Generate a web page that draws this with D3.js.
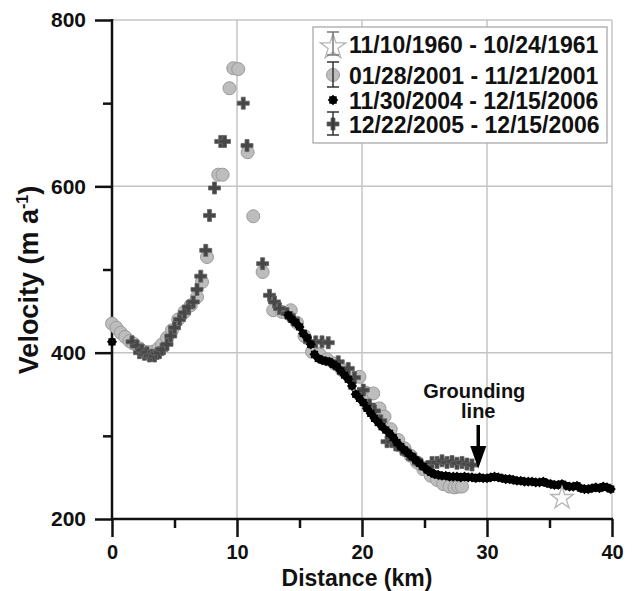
<!DOCTYPE html>
<html>
<head>
<meta charset="utf-8">
<script src="https://cdn.jsdelivr.net/npm/d3@7"></script>
<style>
  body { margin: 0; background: #fff; }
  text { font-family: "Liberation Sans", Arial, sans-serif; font-weight: bold; fill: #111; }
</style>
</head>
<body>
<div id="chart"></div>
<script>
// 1960-61 survey (single point)
const km1960 = [36.0];
const vel1960 = [225];

// 2001 survey (grey circles)
const km2001 = [0.0, 0.35, 0.7, 1.05, 1.4, 1.7, 2.2, 2.7, 3.2, 3.7, 4.0, 4.4, 4.8, 5.3, 5.8, 6.3, 6.8, 7.2, 7.6,
  8.5, 8.85, 9.4, 9.7, 10.1, 10.85, 11.3, 12.05, 12.9, 13.6, 14.3, 14.8, 15.4, 16.0, 16.6, 17.2, 17.8, 18.4, 19.0,
  19.8, 20.3, 20.9, 21.4, 21.8, 22.3, 22.9, 23.4, 23.9, 24.4, 24.9, 25.5, 26.0, 26.5, 27.0, 27.4, 27.7, 28.0];
const vel2001 = [435, 430, 424, 419, 414, 411, 405, 401, 401, 405, 410, 418, 427, 440, 449, 457, 467, 485, 515,
  614, 614, 718, 742, 741, 641, 564, 497, 451, 449, 451, 436, 420, 401, 398, 392, 387, 379, 373,
  371, 352, 351, 333, 323, 308, 295, 285, 276, 268, 260, 252, 247, 242, 239, 238, 239, 239];

// 2004-2006 (black)
const km2004 = [0.0, 14.1, 14.4, 14.7, 15.0, 15.3, 15.6, 15.9, 16.2, 16.5, 16.8, 17.1, 17.4, 17.7, 18.0, 18.3, 18.6,
  18.9, 19.2, 19.5, 19.8, 20.1, 20.4, 20.7, 21.0, 21.3, 21.6, 21.9, 22.2, 22.5, 22.8, 23.1, 23.4, 23.7, 24.0,
  24.3, 24.6, 24.9, 25.2, 25.5, 25.8, 26.1, 26.4, 26.7, 27.0, 27.3, 27.6, 27.9, 28.2, 28.5, 28.8, 29.1, 29.4,
  29.7, 30.0, 30.3, 30.6, 30.9, 31.2, 31.5, 31.8, 32.1, 32.4, 32.7, 33.0, 33.3, 33.6, 33.9, 34.2, 34.5, 34.8,
  35.1, 35.4, 35.7, 36.0, 36.3, 36.6, 36.9, 37.2, 37.5, 37.8, 38.1, 38.4, 38.7, 39.0, 39.3, 39.6, 39.9];
const vel2004 = [413, 445, 440, 436, 431, 423, 418, 410, 398, 393, 391, 390, 389, 386, 383, 378, 373,
  368, 360, 350, 345, 340, 333, 327, 321, 316, 311, 307, 303, 298, 292, 287, 283, 279, 275,
  271, 267, 263, 259, 256, 254, 253, 252, 252, 251, 251, 251, 250, 251, 250, 250, 249, 250,
  249, 249, 250, 251, 250, 249, 248, 248, 247, 246, 246, 245, 245, 245, 244, 244, 245, 243,
  242, 241, 241, 242, 240, 239, 239, 240, 237, 236, 236, 237, 238, 237, 239, 238, 236];

// 2005-2006 (dark crosses)
const km2005 = [1.6, 2.0, 2.2, 2.4, 2.6, 2.8, 3.0, 3.2, 3.4, 3.6, 3.8, 4.0, 4.4, 4.7, 5.0, 5.4, 5.8, 6.1, 6.5, 6.8,
  7.1, 7.5, 7.8, 8.2, 8.7, 9.0, 10.5, 10.8, 12.05, 12.6, 13.0, 13.4, 14.0, 14.5, 15.8, 16.3, 16.8, 17.3, 18.1,
  18.9, 19.4, 19.8, 20.1, 20.6, 21.0, 21.5, 22.0, 22.4, 22.7, 23.2, 23.7, 24.2, 24.7, 25.2, 25.6, 26.0, 26.4,
  26.8, 27.2, 27.6, 28.0, 28.4, 28.8];
const vel2005 = [413, 408, 400, 403, 398, 400, 396, 397, 396, 399, 400, 404, 410, 420, 430, 440, 448, 455, 461, 476,
  492, 523, 565, 598, 654, 654, 700, 649, 507, 469, 461, 453, 447, 440, 413, 413, 413, 412, 389,
  381, 370, 351, 355, 337, 330, 318, 293, 293, 289, 284, 278, 272, 266, 262, 268, 268, 270,
  268, 269, 267, 268, 266, 265];

const legendLabels = ["11/10/1960 - 10/24/1961", "01/28/2001 - 11/21/2001",
  "11/30/2004 - 12/15/2006", "12/22/2005 - 12/15/2006"];
const yMajor = [200, 400, 600, 800], yMinor = [300, 500, 700];
const xMajor = [0, 10, 20, 30, 40], xMinor = [5, 15, 25, 35];
const groundingKm = 29.3, groundingVel = 250;

const W = 636, H = 591;
const svg = d3.select("#chart").append("svg").attr("width", W).attr("height", H);
const x = d3.scaleLinear().domain([0, 40]).range([112, 612]);
const y = d3.scaleLinear().domain([200, 800]).range([519, 20]);

// grid
const grid = svg.append("g").attr("stroke", "#c4c4c4").attr("stroke-width", 1.5);
xMajor.slice(1).forEach(v => grid.append("line").attr("x1", x(v)).attr("x2", x(v)).attr("y1", y(800)).attr("y2", y(200)));
yMajor.slice(1).forEach(v => grid.append("line").attr("x1", x(0)).attr("x2", x(40)).attr("y1", y(v)).attr("y2", y(v)));

// axes
const styleAxis = (sel, fs) => {
  sel.select(".domain").remove();
  sel.selectAll(".tick line").attr("stroke", "#111").attr("stroke-width", 2.5);
  sel.selectAll(".tick text").style("font-size", fs).style("font-family", "Liberation Sans, Arial, sans-serif")
    .style("font-weight", "bold").attr("fill", "#111");
};
svg.append("g").attr("transform", `translate(${x(0)},0)`)
  .call(d3.axisLeft(y).tickValues(yMajor).tickSize(17).tickPadding(9).tickFormat(d3.format("d"))).call(styleAxis, "21px");
svg.append("g").attr("transform", `translate(${x(0)},0)`)
  .call(d3.axisLeft(y).tickValues(yMinor).tickSize(9).tickFormat("")).call(styleAxis, "21px");
svg.append("g").attr("transform", `translate(0,${y(200)})`)
  .call(d3.axisBottom(x).tickValues(xMajor).tickSize(18).tickPadding(8).tickFormat(d3.format("d"))).call(styleAxis, "20px");
svg.append("g").attr("transform", `translate(0,${y(200)})`)
  .call(d3.axisBottom(x).tickValues(xMinor).tickSize(9).tickFormat("")).call(styleAxis, "20px");
svg.append("line").attr("x1", x(0)).attr("x2", x(0)).attr("y1", y(800) - 1).attr("y2", y(200) + 1)
  .attr("stroke", "#111").attr("stroke-width", 2.5);
svg.append("line").attr("x1", x(0) - 1).attr("x2", x(40) + 1).attr("y1", y(200)).attr("y2", y(200))
  .attr("stroke", "#111").attr("stroke-width", 2.5);

// marker makers
const circleSym = (g, cx, cy) => g.append("circle").attr("cx", cx).attr("cy", cy).attr("r", 6.5)
  .attr("fill", "#bdbdbd").attr("stroke", "#9a9a9a").attr("stroke-width", 1);
const crossSym = (g, cx, cy) => g.append("path").attr("d", d3.symbol(d3.symbolCross, 80)())
  .attr("transform", `translate(${cx},${cy})`).attr("fill", "#474747").attr("stroke", "#666").attr("stroke-width", 0.8);
const burstSym = (g, cx, cy, s = 52) => {
  const p = d3.symbol(d3.symbolSquare, s)();
  g.append("path").attr("d", p).attr("transform", `translate(${cx},${cy})`).attr("fill", "#000");
  g.append("path").attr("d", p).attr("transform", `translate(${cx},${cy}) rotate(45)`).attr("fill", "#000");
};
const starSym = (g, cx, cy, s = 160) => g.append("path").attr("d", d3.symbol(d3.symbolStar, s)())
  .attr("transform", `translate(${cx},${cy})`).attr("fill", "#fff").attr("stroke", "#b5b5b5").attr("stroke-width", 1.3);

const marks = svg.append("g");
km2001.forEach((k, i) => circleSym(marks, x(k), y(vel2001[i])));
km2005.forEach((k, i) => crossSym(marks, x(k), y(vel2005[i])));
km2004.forEach((k, i) => burstSym(marks, x(k), y(vel2004[i])));
km1960.forEach((k, i) => starSym(marks, x(k), y(vel1960[i])));

// grounding line annotation
const ga = svg.append("g");
ga.append("text").attr("x", x(groundingKm) - 4).attr("y", 398).attr("text-anchor", "middle").style("font-size", "20px").text("Grounding");
ga.append("text").attr("x", x(groundingKm)).attr("y", 418).attr("text-anchor", "middle").style("font-size", "20px").text("line");
ga.append("line").attr("x1", x(groundingKm)).attr("x2", x(groundingKm)).attr("y1", 425).attr("y2", 450)
  .attr("stroke", "#000").attr("stroke-width", 3.5);
ga.append("path").attr("d", `M${x(groundingKm) - 8},446 L${x(groundingKm) + 8},446 L${x(groundingKm)},${y(groundingVel) - 9} Z`).attr("fill", "#000");

// legend
const lg = svg.append("g");
lg.append("rect").attr("x", 313).attr("y", 27).attr("width", 294).attr("height", 116)
  .attr("fill", "#fff").attr("stroke", "#aaa").attr("stroke-width", 1.3);
const rowY = [44, 75, 100, 124];
const errBar = (cx, y1, y2, col) => {
  lg.append("line").attr("x1", cx).attr("x2", cx).attr("y1", y1).attr("y2", y2).attr("stroke", col).attr("stroke-width", 1.5);
  [y1, y2].forEach(v => lg.append("line").attr("x1", cx - 6).attr("x2", cx + 6).attr("y1", v).attr("y2", v).attr("stroke", col).attr("stroke-width", 1.5));
};
starSym(lg, 333, rowY[0] + 3, 200);
errBar(333, 32, 55, "#777");
circleSym(lg, 333, rowY[1]);
errBar(333, 62, 87, "#333");
burstSym(lg, 333, rowY[2], 56);
crossSym(lg, 333, rowY[3]);
errBar(333, 112, 135, "#333");
legendLabels.forEach((t, i) => lg.append("text").attr("x", 349).attr("y", rowY[i] + 9)
  .style("font-size", "23px").text(t));

// axis titles
svg.append("text").attr("x", 357).attr("y", 586).attr("text-anchor", "middle").style("font-size", "23px").text("Distance (km)");
const yt = svg.append("text").attr("transform", "translate(38,280) rotate(-90)").attr("text-anchor", "middle").style("font-size", "27px");
yt.append("tspan").text("Velocity (m a");
yt.append("tspan").attr("dy", -10).style("font-size", "16px").text("-1");
yt.append("tspan").attr("dy", 10).text(")");
</script>
</body>
</html>
